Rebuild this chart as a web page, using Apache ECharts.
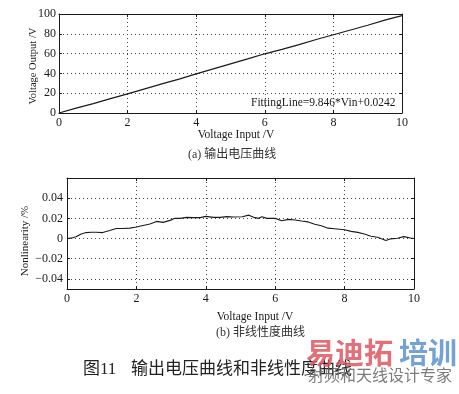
<!DOCTYPE html>
<html>
<head>
<meta charset="utf-8">
<script src="https://cdn.jsdelivr.net/npm/echarts@6/dist/echarts.min.js"></script>
<style>
html,body{margin:0;padding:0;background:#fff;}
#c{width:459px;height:394px;}
</style>
</head>
<body>
<div id="c"></div>
<script>
// ---- data ----
const vinTop = [0,0.5,1,1.5,2,2.5,3,3.5,4,4.5,5,5.5,6,6.5,7,7.5,8,8.5,9,9.5,10];
const voutTop = [0,5.0,9.4,14.5,19.3,24.4,29.4,34.2,39.5,44.6,49.6,54.6,59.8,64.2,69.1,74.2,79.0,83.8,88.6,93.8,98.4];

const vinNL = [0,0.16,0.26,0.41,0.55,0.7,0.84,1.03,1.23,1.42,1.61,1.81,2.0,2.19,2.39,2.58,2.77,2.97,3.11,3.26,3.45,3.64,3.84,4.0,4.22,4.41,4.61,4.8,5.05,5.24,5.38,5.52,5.62,5.76,6.0,6.19,6.38,6.57,6.76,6.95,7.14,7.33,7.52,7.71,8.0,8.19,8.38,8.57,8.76,8.95,9.19,9.33,9.52,9.71,9.9,10];
const nonlin = [0,0.0007,0.0017,0.0045,0.0059,0.0062,0.0062,0.0059,0.0079,0.0100,0.0100,0.0103,0.0114,0.0130,0.0145,0.0170,0.0160,0.0180,0.0200,0.0200,0.0210,0.0207,0.0207,0.0220,0.0210,0.0210,0.0217,0.0214,0.0216,0.0232,0.0210,0.0200,0.0216,0.0200,0.0200,0.0177,0.0190,0.0184,0.0174,0.0165,0.0142,0.0126,0.0103,0.0097,0.0087,0.0071,0.0061,0.0045,0.0023,0.0013,-0.0019,-0.0003,0.0003,0.0019,0.0006,0.0];

const xTicks = [0,2,4,6,8,10];
const yTicksTop = [0,20,40,60,80,100];
const yTicksNL = [-0.04,-0.02,0,0.02,0.04];

const fitText = 'FittingLine=9.846*Vin+0.0242';
const capA = '(a) 输出电压曲线';
const capB = '(b) 非线性度曲线';
const figNo = '图11';
const figTitle = '输出电压曲线和非线性度曲线';

// ---- chart ----
const serif = '"Liberation Serif","DejaVu Serif","Noto Sans CJK SC",serif';
const cjk = '"Liberation Serif","Noto Sans CJK SC",serif';
const ink = '#1a1a1a';

function mainX(grid, name, gap, pad){
  return {
    type:'value', gridIndex:grid, min:0, max:10, interval:2,
    name:name, nameLocation:'middle', nameGap:gap, nameMoveOverlap:false,
    nameTextStyle:{fontFamily:serif,fontSize:11.5,color:ink,padding:[0,0,0,pad]},
    axisLine:{show:true,onZero:false,lineStyle:{color:ink,width:1}},
    axisTick:{show:true,inside:true,length:3,lineStyle:{color:ink}},
    axisLabel:{show:true,margin:4,fontFamily:serif,fontSize:12,color:ink},
    splitLine:{show:true,lineStyle:{type:[1,3],color:'#444',width:1}}
  };
}
function boxX(grid){
  return {
    type:'value', gridIndex:grid, position:'top', min:0, max:10, interval:2,
    axisLine:{show:true,onZero:false,lineStyle:{color:ink,width:1}},
    axisTick:{show:true,inside:true,length:3,lineStyle:{color:ink}},
    axisLabel:{show:false}, splitLine:{show:false}
  };
}

const fmtNL = v => {
  if (Math.abs(v) < 1e-9) return '0';
  return (v < 0 ? '\u2212' : '') + Math.abs(v).toFixed(2);
};

const option = {
  backgroundColor:'#fff',
  animation:false,
  grid:[
    {left:59, top:14, width:343, height:99, show:false},
    {left:67, top:178, width:347, height:111, show:false}
  ],
  xAxis:[
    mainX(0,'Voltage Input /V',16,11),
    boxX(0),
    mainX(1,'Voltage Input /V',22,29),
    boxX(1)
  ],
  yAxis:[
    {
      type:'value', gridIndex:0, min:0, max:100, interval:20,
      name:'Voltage Output /V', nameLocation:'middle', nameGap:21, nameMoveOverlap:false,
      nameTextStyle:{fontFamily:serif,fontSize:10.5,color:ink,padding:[0,5,0,0]},
      axisLine:{show:true,onZero:false,lineStyle:{color:ink,width:1}},
      axisTick:{show:true,inside:true,length:3,lineStyle:{color:ink}},
      axisLabel:{show:true,margin:3,fontFamily:serif,fontSize:12,color:ink},
      splitLine:{show:true,lineStyle:{type:[1,3],color:'#444',width:1}}
    },
    {
      type:'value', gridIndex:0, position:'right', min:0, max:100, interval:20,
      axisLine:{show:true,onZero:false,lineStyle:{color:ink,width:1}},
      axisTick:{show:true,inside:true,length:3,lineStyle:{color:ink}},
      axisLabel:{show:false}, splitLine:{show:false}
    },
    {
      type:'value', gridIndex:1, min:-0.05, max:0.06,
      name:'Nonlinearity /%', nameLocation:'middle', nameGap:36, nameMoveOverlap:false,
      nameTextStyle:{fontFamily:serif,fontSize:11,color:ink,padding:[0,15,0,0]},
      axisLine:{show:true,onZero:false,lineStyle:{color:ink,width:1}},
      axisTick:{show:true,inside:true,length:3,customValues:yTicksNL,lineStyle:{color:ink}},
      axisLabel:{show:true,margin:4,customValues:yTicksNL,formatter:fmtNL,fontFamily:serif,fontSize:12,color:ink},
      splitLine:{show:true,lineStyle:{type:[1,3],color:'#444',width:1}}
    },
    {
      type:'value', gridIndex:1, position:'right', min:-0.05, max:0.06,
      axisLine:{show:true,onZero:false,lineStyle:{color:ink,width:1}},
      axisTick:{show:true,inside:true,length:3,customValues:yTicksNL,lineStyle:{color:ink}},
      axisLabel:{show:false}, splitLine:{show:false}
    }
  ],
  series:[
    {
      type:'line', xAxisIndex:0, yAxisIndex:0, symbol:'none', silent:true,
      lineStyle:{color:ink,width:1.2},
      data: vinTop.map((x,i)=>[x,voutTop[i]])
    },
    {
      type:'line', xAxisIndex:2, yAxisIndex:2, symbol:'none', silent:true,
      lineStyle:{color:ink,width:1.1},
      data: vinNL.map((x,i)=>[x,nonlin[i]])
    }
  ],
  graphic:[
    {type:'text', left:251, top:97, z:10,
      style:{text:fitText, font:'11.5px '+serif, fill:ink}},
    {type:'text', left:188, top:149,
      style:{text:capA, font:'12px '+cjk, fill:'#333'}},
    {type:'text', left:216, top:327,
      style:{text:capB, font:'12px '+cjk, fill:'#333'}},
    {type:'text', left:83, top:361,
      style:{text:figNo, font:'17px '+cjk, fill:'#222'}},
    {type:'text', left:131, top:361,
      style:{text:figTitle, font:'17px '+cjk, fill:'#222'}},
    {type:'text', left:306, top:338, z:20,
      style:{text:'易迪拓', font:'bold 29px "Noto Sans CJK SC",sans-serif', fill:'rgba(222,86,98,0.85)'}},
    {type:'text', left:399, top:338, z:20,
      style:{text:'培训', font:'bold 29px "Noto Sans CJK SC",sans-serif', fill:'rgba(92,146,206,0.85)'}},
    {type:'text', left:308, top:367, z:20,
      style:{text:'射频和天线设计专家', font:'16px "Noto Sans CJK SC",sans-serif', fill:'rgba(110,110,110,0.9)'}}
  ]
};

const chart = echarts.init(document.getElementById('c'), null, {renderer:'canvas'});
chart.setOption(option);
</script>
</body>
</html>
